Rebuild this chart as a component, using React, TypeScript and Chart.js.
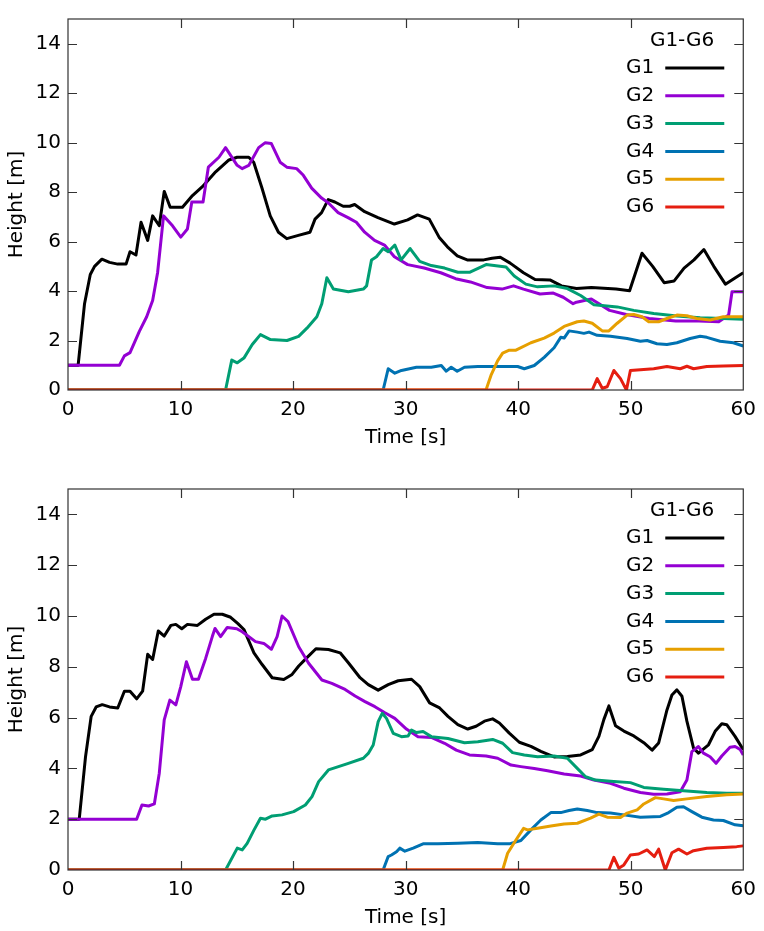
import React, { useEffect, useRef } from "react";
import { Chart, registerables } from "chart.js";
Chart.register(...registerables);

const seriesNames = ["G1", "G2", "G3", "G4", "G5", "G6"];
const seriesColors = ["#000000", "#9400D3", "#009E73", "#0072B2", "#E69F00", "#E51E10"];
const legendTitle = "G1-G6";
const xTicks = [0, 10, 20, 30, 40, 50, 60];
const yTicks = [0, 2, 4, 6, 8, 10, 12, 14];
const xLabel = "Time [s]";
const yLabel = "Height [m]";

type P = [number, number][];

// ---- top panel ----
const topG1: P = [[0,1],[0.9,1],[1.47,3.49],[1.98,4.67],[2.36,5.0],[3.01,5.29],[3.69,5.16],[4.42,5.09],[5.16,5.09],[5.51,5.59],[6.04,5.46],[6.49,6.78],[7.08,6.05],[7.52,7.04],[8.11,6.64],[8.55,8.03],[9.08,7.39],[10.17,7.39],[11.06,7.86],[11.94,8.22],[13.12,8.82],[14.3,9.3],[15.03,9.41],[16.06,9.41],[16.5,9.21],[17.24,8.16],[17.97,7.04],[18.7,6.38],[19.44,6.12],[20.47,6.25],[21.5,6.38],[21.95,6.91],[22.53,7.17],[23.12,7.7],[23.71,7.6],[24.45,7.43],[25.03,7.43],[25.47,7.5],[26.36,7.21],[27.54,6.97],[29.0,6.71],[30.18,6.88],[31.06,7.08],[32.1,6.91],[32.97,6.18],[33.71,5.79],[34.59,5.42],[35.47,5.26],[36.94,5.26],[37.68,5.33],[38.41,5.37],[39.29,5.13],[40.47,4.74],[41.5,4.47],[42.82,4.45],[43.85,4.21],[45.18,4.1],[46.5,4.14],[48.7,4.08],[49.9,4.01],[51.0,5.53],[51.95,5.0],[52.97,4.34],[53.86,4.41],[54.74,4.93],[55.62,5.26],[56.5,5.68],[57.38,5.0],[58.41,4.28],[59.3,4.54],[60,4.74]];
const topG2: P = [[0,1],[4.57,1],[5.01,1.38],[5.51,1.51],[6.34,2.37],[6.99,2.96],[7.52,3.62],[7.96,4.74],[8.49,7.04],[9.29,6.64],[10.02,6.18],[10.61,6.51],[11.0,7.6],[12.0,7.6],[12.47,9.01],[13.41,9.41],[14.0,9.8],[15.0,9.1],[15.47,8.95],[16.06,9.08],[16.94,9.8],[17.53,10.0],[18.06,9.97],[18.85,9.21],[19.44,9.01],[20.32,8.95],[20.91,8.68],[21.65,8.16],[22.53,7.76],[23.12,7.57],[24.0,7.17],[24.88,6.97],[25.62,6.78],[26.36,6.38],[27.24,6.05],[28.12,5.86],[29.0,5.39],[30.18,5.07],[31.65,4.93],[33.12,4.74],[34.44,4.5],[35.76,4.37],[37.24,4.14],[38.56,4.08],[39.59,4.21],[40.47,4.08],[41.94,3.88],[43.12,3.92],[44.0,3.75],[44.88,3.49],[45.18,3.55],[46.5,3.68],[48.12,3.22],[49.6,3.05],[51.65,2.89],[54.0,2.79],[56.06,2.79],[57.82,2.76],[58.7,3.03],[59.0,3.97],[60,3.97]];
const topG3: P = [[0,0],[14.0,0],[14.55,1.21],[15.04,1.1],[15.63,1.29],[16.37,1.84],[17.1,2.24],[17.99,2.04],[19.46,2.0],[20.49,2.17],[21.23,2.5],[22.11,2.96],[22.55,3.49],[23.0,4.54],[23.58,4.08],[24.91,3.97],[26.24,4.08],[26.53,4.21],[26.97,5.26],[27.41,5.39],[28.0,5.72],[28.45,5.59],[29.04,5.86],[29.6,5.26],[30.4,5.72],[31.25,5.2],[32.28,5.03],[33.46,4.93],[34.64,4.76],[35.67,4.76],[37.15,5.07],[38.92,4.97],[39.65,4.61],[40.68,4.28],[41.72,4.17],[43.19,4.21],[44.37,4.1],[45.55,3.82],[46.73,3.45],[48.8,3.36],[50.27,3.22],[52.04,3.09],[54.1,2.99],[56.17,2.92],[58.23,2.89],[60,2.86]];
const topG4: P = [[0,0],[28.0,0],[28.45,0.86],[29.04,0.68],[29.63,0.79],[30.96,0.92],[32.28,0.92],[33.17,0.99],[33.61,0.76],[34.05,0.92],[34.58,0.76],[35.23,0.92],[36.41,0.95],[38.18,0.95],[39.95,0.95],[40.54,0.86],[41.43,0.99],[42.31,1.32],[43.19,1.71],[43.78,2.13],[44.08,2.1],[44.52,2.39],[45.26,2.34],[45.84,2.29],[46.29,2.34],[47.02,2.21],[48.2,2.17],[49.68,2.08],[50.86,1.97],[51.45,2.0],[52.33,1.87],[53.22,1.84],[54.1,1.91],[55.28,2.08],[56.17,2.17],[56.76,2.13],[57.94,1.97],[59.12,1.91],[60,1.78]];
const topG5: P = [[0,0],[37.14,0],[37.58,0.59],[38.17,1.18],[38.62,1.49],[39.21,1.61],[39.8,1.61],[41.13,1.91],[42.31,2.1],[43.19,2.3],[44.08,2.57],[45.25,2.76],[45.84,2.79],[46.58,2.7],[47.47,2.39],[48.06,2.39],[48.8,2.7],[49.68,3.03],[50.27,3.05],[51.0,2.96],[51.6,2.76],[52.48,2.76],[53.22,2.89],[54.1,3.03],[54.99,3.0],[55.87,2.89],[57.05,2.83],[58.23,2.96],[59.12,2.96],[60,2.96]];
const topG6: P = [[0,0],[46.58,0],[47.02,0.46],[47.47,0.07],[47.91,0.13],[48.5,0.79],[49.09,0.46],[49.62,0],[49.97,0.79],[50.86,0.82],[52.04,0.86],[53.22,0.95],[54.4,0.86],[54.99,0.96],[55.58,0.86],[56.76,0.95],[58.23,0.97],[60,0.99]];

// ---- bottom panel ----
const botG1: P = [[0,2],[1.0,2],[1.56,4.47],[2.06,6.05],[2.5,6.42],[3.04,6.51],[3.69,6.42],[4.42,6.38],[5.01,7.04],[5.51,7.04],[6.1,6.74],[6.63,7.04],[7.08,8.49],[7.52,8.29],[8.02,9.41],[8.55,9.21],[9.14,9.63],[9.58,9.67],[10.11,9.5],[10.61,9.67],[11.5,9.63],[12.23,9.87],[12.97,10.07],[13.71,10.07],[14.45,9.95],[15.1,9.7],[15.63,9.47],[16.52,8.55],[17.25,8.09],[18.14,7.57],[19.17,7.5],[19.91,7.7],[20.5,8.03],[21.23,8.36],[22.03,8.71],[23.14,8.68],[24.18,8.55],[24.91,8.16],[25.95,7.57],[26.68,7.3],[27.56,7.08],[28.45,7.3],[29.34,7.45],[30.52,7.51],[31.25,7.22],[32.13,6.58],[33.02,6.38],[33.76,6.05],[34.64,5.72],[35.52,5.55],[36.26,5.66],[37.0,5.86],[37.73,5.95],[38.33,5.79],[39.21,5.39],[40.1,5.03],[41.13,4.87],[42.01,4.67],[43.19,4.45],[44.37,4.47],[45.55,4.53],[46.58,4.74],[47.17,5.26],[47.61,5.92],[48.06,6.46],[48.65,5.68],[49.39,5.47],[50.27,5.28],[51.16,5.01],[51.9,4.72],[52.48,5.0],[53.22,6.3],[53.66,6.89],[54.1,7.09],[54.55,6.84],[54.99,5.86],[55.58,4.8],[56.02,4.6],[56.91,4.93],[57.5,5.46],[58.09,5.76],[58.53,5.72],[59.27,5.26],[60,4.74]];
const botG2: P = [[0,2],[6.1,2],[6.57,2.56],[7.16,2.52],[7.67,2.6],[8.11,3.81],[8.55,5.91],[9.05,6.69],[9.58,6.5],[10.02,7.22],[10.52,8.2],[11.06,7.51],[11.59,7.51],[12.23,8.33],[12.82,9.19],[13.06,9.51],[13.56,9.19],[14.15,9.55],[15.0,9.5],[15.48,9.38],[16.66,8.99],[17.4,8.92],[18.07,8.69],[18.58,9.19],[19.02,10.0],[19.55,9.78],[20.5,8.79],[21.38,8.14],[22.56,7.48],[23.44,7.35],[24.62,7.11],[25.51,6.85],[26.39,6.63],[27.27,6.43],[28.16,6.19],[29.04,5.97],[30.07,5.55],[31.1,5.25],[32.28,5.22],[33.46,4.99],[34.5,4.72],[35.67,4.53],[37.15,4.49],[38.18,4.4],[39.36,4.13],[40.24,4.07],[41.43,4.0],[42.61,3.91],[44.08,3.78],[45.55,3.7],[46.73,3.54],[48.2,3.41],[49.39,3.22],[50.86,3.05],[52.04,2.98],[53.22,2.99],[54.4,3.08],[54.99,3.54],[55.43,4.66],[56.02,4.86],[56.46,4.6],[57.05,4.46],[57.58,4.2],[58.09,4.49],[58.82,4.83],[59.27,4.86],[59.71,4.75],[60,4.53]];
const botG3: P = [[0,0],[14.0,0],[15.04,0.86],[15.48,0.79],[15.92,1.05],[16.52,1.57],[17.1,2.04],[17.55,2.0],[18.14,2.13],[19.02,2.17],[20.05,2.3],[21.09,2.56],[21.68,2.89],[22.27,3.48],[23.14,3.94],[24.03,4.07],[24.91,4.2],[26.24,4.4],[26.68,4.59],[27.12,4.92],[27.56,5.84],[27.92,6.17],[28.3,5.97],[28.9,5.38],[29.63,5.25],[30.22,5.28],[30.52,5.51],[30.96,5.41],[31.55,5.45],[32.28,5.25],[33.76,5.18],[35.23,5.01],[36.41,5.05],[37.73,5.14],[38.62,4.99],[39.5,4.62],[40.54,4.53],[41.72,4.46],[43.19,4.49],[44.37,4.4],[45.25,4.0],[45.99,3.67],[46.88,3.54],[48.5,3.48],[49.97,3.44],[51.16,3.25],[52.92,3.18],[54.69,3.12],[56.76,3.05],[58.53,3.02],[60,3.02]];
const botG4: P = [[0,0],[28.0,0],[28.45,0.53],[28.74,0.59],[29.19,0.72],[29.48,0.86],[29.93,0.74],[30.67,0.86],[31.55,1.03],[32.87,1.03],[34.64,1.05],[36.41,1.08],[38.18,1.03],[39.21,1.03],[40.24,1.16],[41.13,1.58],[42.01,1.97],[42.9,2.26],[43.78,2.26],[44.52,2.34],[45.25,2.4],[46.14,2.34],[47.02,2.26],[48.2,2.24],[49.39,2.17],[50.86,2.08],[52.63,2.11],[53.37,2.26],[54.1,2.47],[54.69,2.49],[55.43,2.3],[56.32,2.08],[57.35,1.97],[58.23,1.95],[59.27,1.78],[60,1.74]];
const botG5: P = [[0,0],[38.62,0],[39.06,0.66],[39.8,1.18],[40.48,1.64],[40.83,1.58],[41.72,1.64],[42.9,1.73],[44.08,1.81],[45.26,1.84],[46.43,2.04],[47.17,2.2],[47.91,2.08],[49.09,2.07],[49.68,2.24],[50.57,2.37],[51.16,2.6],[52.19,2.85],[52.92,2.8],[53.81,2.74],[54.99,2.8],[56.76,2.89],[58.53,2.96],[60,2.99]];
const botG6: P = [[0,0],[48.06,0],[48.5,0.5],[48.94,0.07],[49.39,0.2],[49.97,0.59],[50.71,0.63],[51.45,0.79],[52.1,0.53],[52.48,0.82],[53.07,0],[53.66,0.68],[54.25,0.82],[54.99,0.63],[55.58,0.76],[56.76,0.86],[58.23,0.89],[59.41,0.92],[60,0.95]];

const topSeries = [topG1, topG2, topG3, topG4, topG5, topG6];
const botSeries = [botG1, botG2, botG3, botG4, botG5, botG6];

const FONT = '"DejaVu Sans", "Noto Sans", sans-serif';
const FONT_SIZE = 20;

const framePlugin = {
  id: "gnuFrame",
  afterDatasetsDraw(chart: any) {
    const { ctx, chartArea: a, scales } = chart;
    const x = scales.x;
    const y = scales.y;
    ctx.save();
    ctx.strokeStyle = "#333333";
    ctx.lineWidth = 1.2;
    ctx.strokeRect(a.left, a.top, a.right - a.left, a.bottom - a.top);
    const tl = 9;
    ctx.beginPath();
    yTicks.forEach((v) => {
      if (v === 0) return;
      const py = Math.round(y.getPixelForValue(v)) + 0.5;
      ctx.moveTo(a.left, py);
      ctx.lineTo(a.left + tl, py);
      ctx.moveTo(a.right, py);
      ctx.lineTo(a.right - tl, py);
    });
    xTicks.forEach((v) => {
      if (v === 0 || v === 60) return;
      const px = Math.round(x.getPixelForValue(v)) + 0.5;
      ctx.moveTo(px, a.top);
      ctx.lineTo(px, a.top + tl);
      ctx.moveTo(px, a.bottom);
      ctx.lineTo(px, a.bottom - tl);
    });
    ctx.stroke();

    // key
    ctx.font = `${FONT_SIZE}px ${FONT}`;
    ctx.fillStyle = "#000";
    ctx.textAlign = "right";
    ctx.textBaseline = "middle";
    ctx.fillText(legendTitle, a.right - 29, a.top + 22);
    seriesNames.forEach((name, i) => {
      const yy = a.top + 49 + i * 27.8;
      ctx.fillStyle = "#000";
      ctx.fillText(name, a.right - 89, yy);
      ctx.strokeStyle = seriesColors[i];
      ctx.lineWidth = 3;
      ctx.beginPath();
      ctx.moveTo(a.right - 78, yy);
      ctx.lineTo(a.right - 19, yy);
      ctx.stroke();
    });
    ctx.restore();
  },
};

function Panel(props: { series: P[]; top: number; height: number; padTop: number; xH: number; titlePad: number }) {
  const ref = useRef<HTMLCanvasElement | null>(null);
  useEffect(() => {
    if (!ref.current) return;
    const font = { family: FONT, size: FONT_SIZE };
    const chart = new Chart(ref.current, {
      type: "line",
      data: {
        datasets: props.series.map((pts, i) => ({
          label: seriesNames[i],
          data: pts.map(([t, h]) => ({ x: t, y: h })),
          borderColor: seriesColors[i],
          backgroundColor: seriesColors[i],
          borderWidth: 3,
          pointRadius: 0,
          tension: 0,
          fill: false,
          borderJoinStyle: "round",
          order: 6 - i,
        })),
      },
      options: {
        animation: false,
        responsive: false,
        layout: { padding: { top: props.padTop, right: 16, left: 0, bottom: 0 } },
        plugins: { legend: { display: false }, tooltip: { enabled: false } },
        scales: {
          x: {
            type: "linear",
            min: 0,
            max: 60,
            afterBuildTicks: (s: any) => {
              s.ticks = xTicks.map((v) => ({ value: v }));
            },
            afterFit: (s: any) => {
              s.height = props.xH;
            },
            ticks: { padding: 8, color: "#000", font, maxRotation: 0, autoSkip: false },
            grid: { display: false, drawTicks: false },
            border: { display: false },
            title: { display: true, text: xLabel, color: "#000", font, padding: { top: 0, bottom: props.titlePad } },
          },
          y: {
            type: "linear",
            min: 0,
            max: 15,
            afterBuildTicks: (s: any) => {
              s.ticks = yTicks.map((v) => ({ value: v }));
            },
            afterFit: (s: any) => {
              s.width = 68;
            },
            ticks: { padding: 7, color: "#000", font, autoSkip: false },
            grid: { display: false, drawTicks: false },
            border: { display: false },
            title: { display: true, text: yLabel, color: "#000", font, padding: { top: 5, bottom: 0 } },
          },
        },
      },
      plugins: [framePlugin],
    } as any);
    return () => chart.destroy();
  }, []);
  return (
    <div style={{ position: "absolute", left: 0, top: props.top, width: 764, height: props.height }}>
      <canvas ref={ref} width={764} height={props.height} style={{ display: "block" }} />
    </div>
  );
}

export default function App() {
  return (
    <div style={{ position: "absolute", left: 0, top: 0, width: 764, height: 931, background: "#fff" }}>
      <Panel series={topSeries} top={0} height={470} padTop={10} xH={80} titlePad={20} />
      <Panel series={botSeries} top={470} height={461} padTop={19} xH={61} titlePad={1} />
    </div>
  );
}
